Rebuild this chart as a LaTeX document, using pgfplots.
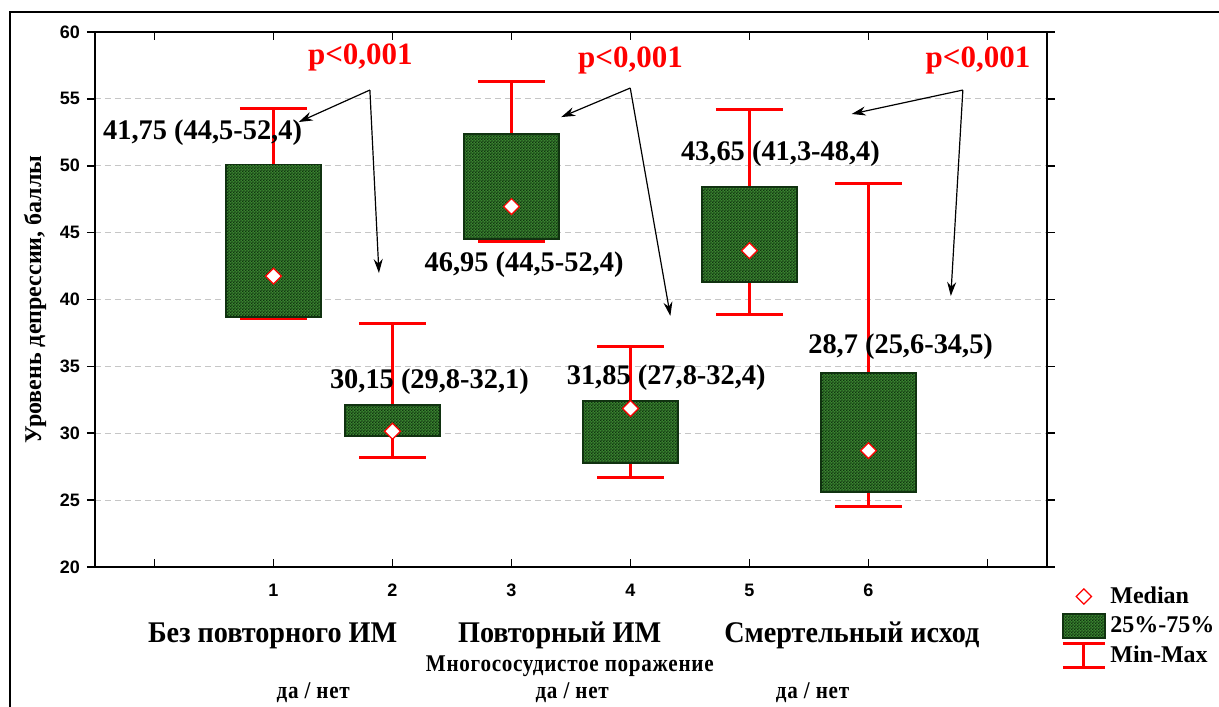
\documentclass[border=0pt]{standalone}
\usepackage{fontspec}
\setmainfont{Liberation Serif}
\setsansfont{Liberation Sans}
\newfontfamily\catserif[FakeStretch=0.94]{Liberation Serif}
\newfontfamily\subserif[FakeStretch=0.88, LetterSpace=3]{Liberation Serif}
\usepackage{pgfplots}
\pgfplotsset{compat=1.18}
\usepackage{pgfplotstable}
\usetikzlibrary{patterns,arrows.meta}

\definecolor{boxgreen}{RGB}{58,132,48}
\definecolor{boxdark}{RGB}{16,50,16}
\definecolor{pred}{RGB}{255,0,0}

\pgfdeclarepatternformonly{checker}{\pgfpointorigin}{\pgfpoint{1.6pt}{1.6pt}}{\pgfpoint{1.6pt}{1.6pt}}%
{\pgfpathrectangle{\pgfpointorigin}{\pgfpoint{0.8pt}{0.8pt}}%
 \pgfpathrectangle{\pgfpoint{0.8pt}{0.8pt}}{\pgfpoint{0.8pt}{0.8pt}}%
 \pgfusepath{fill}}

\pgfplotstableread{
x lo q1 med q3 hi
1 38.6 38.7 41.75 50.1 54.3
2 28.2 29.8 30.15 32.1 38.2
3 44.3 44.5 46.95 52.4 56.3
4 26.7 27.8 31.85 32.4 36.5
5 38.9 41.3 43.65 48.4 54.2
6 24.5 25.6 28.7 34.5 48.7
}\data

\tikzset{boxst/.style={fill=boxgreen, draw=boxdark, line width=0.9pt,
  postaction={pattern=checker, pattern color=boxdark}}}

\begin{document}
\begin{tikzpicture}
\path[use as bounding box] (-47.5pt,-69.5pt) rectangle (562pt,283.5pt);
\draw[line width=0.8pt] (-42.5pt,-70pt) -- (-42.5pt,277.5pt) -- (563pt,277.5pt);
\begin{axis}[
  scale only axis, width=476pt, height=267.5pt,
  xmin=-0.5, xmax=7.5, ymin=20, ymax=60,
  xtick={0,1,2,3,4,5,6,7}, xticklabels={,1,2,3,4,5,6,},
  ytick={20,25,...,60},
  xtick align=inside, ytick align=outside,
  major tick length=4pt,
  axis line style={line width=1pt},
  tick style={line width=0.8pt, black},
  ymajorgrids, grid style={densely dashed, gray!45, line width=0.5pt},
  ticklabel style={font=\sffamily\bfseries\fontsize{9}{9}\selectfont},
  /pgf/number format/assume math mode=true,
  xticklabel style={yshift=-5pt},
  ylabel={Уровень депрессии, баллы},
  ylabel style={font=\bfseries\fontsize{12}{12}\selectfont, at={(axis description cs:-0.063,0.5)}, anchor=center},
  clip=false,
  legend style={draw=none, fill=none, at={(1.0084,-0.021)}, anchor=north west,
    font=\bfseries\fontsize{12}{12}\selectfont, row sep=1.2pt,
    /tikz/every even column/.append style={column sep=3pt}},
  legend cell align=left,
]
% whiskers
\addplot[forget plot, draw=none, mark=none,
  error bars/.cd, y dir=both, y explicit,
  error bar style={pred, line width=1.5pt},
  error mark options={pred, line width=1.5pt, mark size=16.75pt, rotate=90}]
  table[x=x, y=med, y error plus expr=\thisrow{hi}-\thisrow{med}, y error minus expr=\thisrow{med}-\thisrow{lo}] {\data};
% boxes
\addplot[forget plot, boxst] coordinates {(0.6,38.7)(1.4,38.7)(1.4,50.1)(0.6,50.1)} -- cycle;
\addplot[forget plot, boxst] coordinates {(1.6,29.8)(2.4,29.8)(2.4,32.1)(1.6,32.1)} -- cycle;
\addplot[forget plot, boxst] coordinates {(2.6,44.5)(3.4,44.5)(3.4,52.4)(2.6,52.4)} -- cycle;
\addplot[forget plot, boxst] coordinates {(3.6,27.8)(4.4,27.8)(4.4,32.4)(3.6,32.4)} -- cycle;
\addplot[forget plot, boxst] coordinates {(4.6,41.3)(5.4,41.3)(5.4,48.4)(4.6,48.4)} -- cycle;
\addplot[forget plot, boxst] coordinates {(5.6,25.6)(6.4,25.6)(6.4,34.5)(5.6,34.5)} -- cycle;
% medians
\addplot[forget plot, only marks, mark=square*, mark size=2.8pt,
  mark options={rotate=45, fill=white, draw=pred, line width=0.6pt}]
  table[x=x, y=med] {\data};
% legend
\addlegendimage{legend image code/.code={\draw[pred, fill=white, line width=0.6pt] (10.5pt,3.8pt) -- (14.3pt,0pt) -- (10.5pt,-3.8pt) -- (6.7pt,0pt) -- cycle;}}
\addlegendentry{Median}
\addlegendimage{legend image code/.code={\draw[boxst] (0pt,-6pt) rectangle (21pt,6pt);}}
\addlegendentry{25\%-75\%}
\addlegendimage{legend image code/.code={\draw[pred, line width=1.5pt] (0pt,6pt) -- (21pt,6pt) (10.5pt,6pt) -- (10.5pt,-6pt) (0pt,-6pt) -- (21pt,-6pt);}}
\addlegendentry{Min-Max}
% value labels
\begin{scope}[every node/.style={font=\bfseries\fontsize{14.2}{14.2}\selectfont, inner sep=0pt}]
\node at (axis cs:0.404,52.49) {41,75 (44,5-52,4)};
\node at (axis cs:2.31,33.83) {30,15 (29,8-32,1)};
\node at (axis cs:3.106,42.58) {46,95 (44,5-52,4)};
\node at (axis cs:4.30,34.13) {31,85 (27,8-32,4)};
\node at (axis cs:5.26,50.88) {43,65 (41,3-48,4)};
\node at (axis cs:6.27,36.45) {28,7 (25,6-34,5)};
\end{scope}
\begin{scope}[every node/.style={font=\bfseries\fontsize{15.5}{16}\selectfont, text=pred, inner sep=0pt}]
\node at (axis cs:1.73,58.1) {p<0,001};
\node at (axis cs:4.0,57.9) {p<0,001};
\node at (axis cs:6.92,57.9) {p<0,001};
\end{scope}
\begin{scope}[line width=0.6pt, -{Stealth[length=7pt,width=4.5pt]}]
\draw (axis cs:1.810,55.66) -- (axis cs:1.212,53.27);
\draw (axis cs:1.810,55.66) -- (axis cs:1.886,41.98);
\draw (axis cs:3.998,55.81) -- (axis cs:3.418,53.64);
\draw (axis cs:3.998,55.81) -- (axis cs:4.335,38.77);
\draw (axis cs:6.793,55.66) -- (axis cs:5.859,53.87);
\draw (axis cs:6.793,55.66) -- (axis cs:6.692,40.26);
\end{scope}
% category labels
\begin{scope}[every node/.style={inner sep=0pt, anchor=base}]
\node[font=\catserif\bfseries\fontsize{15}{15}\selectfont] at (axis cs:0.993,14.39) {Без повторного ИМ};
\node[font=\catserif\bfseries\fontsize{15}{15}\selectfont] at (axis cs:3.405,14.39) {Повторный ИМ};
\node[font=\catserif\bfseries\fontsize{15}{15}\selectfont] at (axis cs:5.86,14.39) {Смертельный исход};
\node[font=\subserif\bfseries\fontsize{12}{12}\selectfont] at (axis cs:3.49,12.22) {Многососудистое поражение};
\node[font=\subserif\bfseries\fontsize{12}{12}\selectfont] at (axis cs:1.334,10.2) {да / нет};
\node[font=\subserif\bfseries\fontsize{12}{12}\selectfont] at (axis cs:3.51,10.2) {да / нет};
\node[font=\subserif\bfseries\fontsize{12}{12}\selectfont] at (axis cs:5.53,10.2) {да / нет};
\end{scope}
\end{axis}
\end{tikzpicture}
\end{document}
